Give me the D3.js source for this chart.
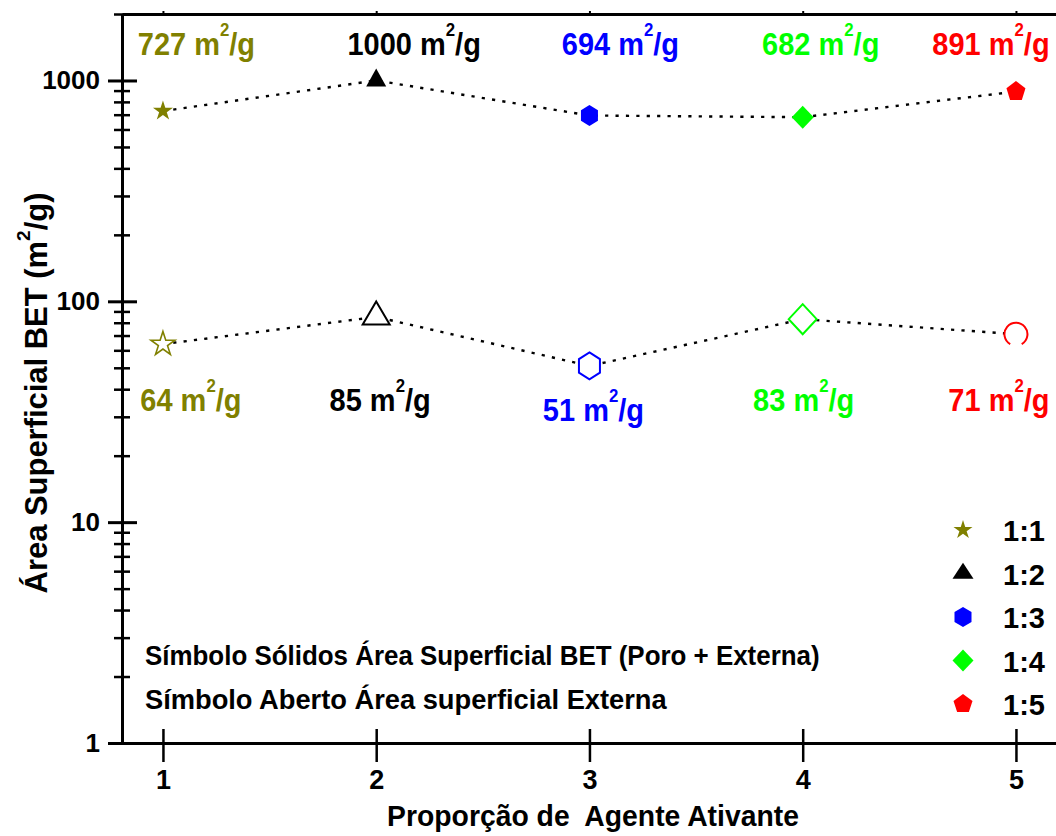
<!DOCTYPE html>
<html>
<head>
<meta charset="utf-8">
<script src="https://cdn.jsdelivr.net/npm/d3@7"></script>
<style>
  html, body { margin: 0; padding: 0; background: #fff; }
  svg { display: block; }
  text { font-family: "Liberation Sans", Arial, sans-serif; font-weight: bold; }
</style>
</head>
<body>
<svg id="chart" width="1056" height="836"></svg>
<script>
// Activating-agent ratio on the x axis
const proportion = [1, 2, 3, 4, 5];
const ratioNames = ["1:1", "1:2", "1:3", "1:4", "1:5"];
// BET surface area (pore + external), m²/g
const betArea = [727, 1000, 694, 682, 891];
// External surface area, m²/g
const externalArea = [64, 85, 51, 83, 71];
const seriesColors = ["#808000", "#000000", "#0000ff", "#00ff00", "#ff0000"];
const xTickValues = [1, 2, 3, 4, 5];
const yTickValues = [1, 10, 100, 1000];

const svg = d3.select("#chart");
const FONT = '"Liberation Sans", Arial, sans-serif';

const x = d3.scaleLinear().domain([0.808, 5.2]).range([122, 1058.6]);
const y = d3.scaleLog().domain([1, 2000]).range([743, 14]);

function styleAxis(g, fontSize) {
  g.attr("font-family", FONT).attr("font-size", fontSize).attr("font-weight", "bold");
  g.selectAll("text").attr("fill", "#000");
  g.selectAll("line, path").attr("stroke", "#000");
}

// Squeeze a text horizontally about anchorX so it spans targetWidth
function fitWidth(sel, targetWidth, anchorX) {
  const w = sel.node().getComputedTextLength();
  const s = targetWidth / w;
  sel.attr("transform", `translate(${anchorX},0) scale(${s},1) translate(${-anchorX},0)`);
}

// Left axis: minor ticks crossing the axis
const minorValues = y.ticks().filter(v => Math.abs(Math.log10(v) - Math.round(Math.log10(v))) > 1e-6);
const gyMinor = svg.append("g")
  .attr("transform", `translate(${x.range()[0]},0)`)
  .call(d3.axisLeft(y).tickValues(minorValues).tickSize(8).tickSizeOuter(0).tickFormat(""));
gyMinor.select(".domain").remove();
gyMinor.selectAll(".tick line").attr("x1", 8).attr("stroke", "#000").attr("stroke-width", 2.5);

// Left axis: decades
const gy = svg.append("g")
  .attr("transform", `translate(${x.range()[0]},0)`)
  .call(d3.axisLeft(y).tickValues(yTickValues).tickSize(14).tickPadding(8)
    .tickSizeOuter(0).tickFormat(d3.format("d")));
styleAxis(gy, 26);
gy.select(".domain").attr("stroke-width", 3);
gy.selectAll(".tick line").attr("x1", 15).attr("stroke-width", 3);

// Bottom axis
const gx = svg.append("g")
  .attr("transform", `translate(0,${y.range()[0]})`)
  .call(d3.axisBottom(x).tickValues(xTickValues).tickSize(19).tickPadding(8)
    .tickSizeOuter(0).tickFormat(d3.format("d")));
styleAxis(gx, 27);
gx.select(".domain").attr("stroke-width", 3);
gx.selectAll(".tick line").attr("y1", -14).attr("stroke-width", 2.5);

// Top and right frame
const gTop = svg.append("g")
  .attr("transform", `translate(0,${y.range()[1]})`)
  .call(d3.axisTop(x).tickValues(xTickValues).tickSize(3).tickSizeOuter(0).tickFormat(""));
styleAxis(gTop, 10);
gTop.select(".domain").attr("stroke-width", 3);
gTop.selectAll(".tick line").attr("stroke-width", 2);
const gRight = svg.append("g")
  .attr("transform", `translate(${x.range()[1]},0)`)
  .call(d3.axisRight(y).tickValues([]).tickSizeOuter(0));
styleAxis(gRight, 10);
gRight.select(".domain").attr("stroke-width", 3);

// Dotted connecting lines
const line = d3.line().x((d, i) => x(proportion[i])).y(d => y(d));
[betArea, externalArea].forEach(series => {
  svg.append("path").datum(series)
    .attr("d", line)
    .attr("fill", "none")
    .attr("stroke", "#000")
    .attr("stroke-width", 2.4)
    .attr("stroke-dasharray", "3.2,7.2");
});

// Marker shapes, centred on (0,0), sized by width/height
function polygon(pts) {
  const p = d3.path();
  pts.forEach((q, i) => i ? p.lineTo(q[0], q[1]) : p.moveTo(q[0], q[1]));
  p.closePath();
  return p.toString();
}
function shapePath(kind, w, h) {
  if (kind === "star") {
    const R = w / 1.902, r = R * 0.382, sy = h / (1.809 * R);
    const pts = d3.range(10).map(k => {
      const a = -Math.PI / 2 + k * Math.PI / 5, rr = k % 2 ? r : R;
      return [rr * Math.cos(a), rr * Math.sin(a) * sy];
    });
    return polygon(pts);
  }
  if (kind === "triangle") {
    return polygon([[0, -2 * h / 3], [w / 2, h / 3], [-w / 2, h / 3]]);
  }
  if (kind === "hexagon") {
    return polygon([[0, -h / 2], [w / 2, -h / 4], [w / 2, h / 4], [0, h / 2], [-w / 2, h / 4], [-w / 2, -h / 4]]);
  }
  if (kind === "diamond") {
    return polygon([[0, -h / 2], [w / 2, 0], [0, h / 2], [-w / 2, 0]]);
  }
  if (kind === "pentagon") {
    const R = w / 1.902, sy = h / (1.809 * R);
    const pts = d3.range(5).map(k => {
      const a = -Math.PI / 2 + k * 2 * Math.PI / 5;
      return [R * Math.cos(a), R * Math.sin(a) * sy];
    });
    return polygon(pts);
  }
  if (kind === "arc") {
    const r = w / 2, a0 = Math.PI / 2 + Math.PI / 6, a1 = a0 + 2 * Math.PI - Math.PI / 3;
    const p = d3.path();
    p.moveTo(r * Math.cos(a0), r * Math.sin(a0));
    p.arc(0, 0, r, a0, a1);
    return p.toString();
  }
}

const solidShapes = [["star", 20, 19], ["triangle", 20, 18], ["hexagon", 17, 21], ["diamond", 22, 23], ["pentagon", 19, 19]];
const openShapes = [["star", 24, 23], ["triangle", 27, 23], ["hexagon", 21, 27], ["diamond", 28, 30], ["arc", 23, 23]];
const legendShapes = [["star", 19, 18], ["triangle", 21, 16], ["hexagon", 17, 20], ["diamond", 21, 22], ["pentagon", 19, 18]];

// Open symbols: external area
svg.append("g").selectAll("path")
  .data(externalArea)
  .join("path")
  .attr("transform", (d, i) => `translate(${x(proportion[i])},${y(d)})`)
  .attr("d", (d, i) => shapePath(...openShapes[i]))
  .attr("fill", "#fff")
  .attr("stroke", (d, i) => seriesColors[i])
  .attr("stroke-width", (d, i) => i === 0 ? 1.6 : 2);

// Solid symbols: BET area
svg.append("g").selectAll("path")
  .data(betArea)
  .join("path")
  .attr("transform", (d, i) => `translate(${x(proportion[i])},${y(d)})`)
  .attr("d", (d, i) => shapePath(...solidShapes[i]))
  .attr("fill", (d, i) => seriesColors[i]);

// Value annotations (condensed bold)
const LABEL_SQUEEZE = 0.935;
function areaLabel(cx, baseline, value, color) {
  const t = svg.append("text")
    .attr("x", cx).attr("y", baseline)
    .attr("text-anchor", "middle")
    .attr("fill", color)
    .attr("font-size", 31)
    .attr("transform", `translate(${cx},0) scale(${LABEL_SQUEEZE},1) translate(${-cx},0)`);
  t.append("tspan").text(value + " m");
  t.append("tspan").attr("dy", -19).attr("font-size", 18).text("2");
  t.append("tspan").attr("dy", 19).text("/g");
}
const topLabelDx = [33.5, 38, 31, 18, -25];
const bottomLabelDx = [28, 4, 4, 1, -17];
const bottomLabelY = [411, 411, 421, 411, 411];
betArea.forEach((v, i) => areaLabel(x(proportion[i]) + topLabelDx[i], 55, v, seriesColors[i]));
externalArea.forEach((v, i) => areaLabel(x(proportion[i]) + bottomLabelDx[i], bottomLabelY[i], v, seriesColors[i]));

// Legend
const legend = svg.append("g").attr("transform", "translate(963,530)");
ratioNames.forEach((name, i) => {
  const row = legend.append("g").attr("transform", `translate(0,${i * 43.5})`);
  row.append("path").attr("d", shapePath(...legendShapes[i])).attr("fill", seriesColors[i]);
  row.append("text").attr("x", 40).attr("y", 11).attr("font-size", 29).attr("fill", "#000").text(name);
});

// Notes on symbol meaning
const note1 = svg.append("text").attr("x", 145).attr("y", 665).attr("font-size", 28).attr("fill", "#000")
  .text("Símbolo Sólidos Área Superficial BET (Poro + Externa)");
fitWidth(note1, 675, 145);
const note2 = svg.append("text").attr("x", 145).attr("y", 709).attr("font-size", 28).attr("fill", "#000")
  .text("Símbolo Aberto Área superficial Externa");
fitWidth(note2, 522, 145);

// Axis titles
const xTitle = svg.append("text")
  .attr("x", 593).attr("y", 826)
  .attr("text-anchor", "middle")
  .attr("font-size", 29)
  .attr("fill", "#000")
  .style("white-space", "pre")
  .text("Proporção de  Agente Ativante");
fitWidth(xTitle, 412, 593);

const yTitle = svg.append("text")
  .attr("x", 0).attr("y", 0)
  .attr("text-anchor", "middle")
  .attr("font-size", 31)
  .attr("fill", "#000");
yTitle.append("tspan").text("Área Superficial BET (m");
yTitle.append("tspan").attr("dy", -17).attr("font-size", 19).text("2");
yTitle.append("tspan").attr("dy", 17).text("/g)");
const yTitleScale = 401 / yTitle.node().getComputedTextLength();
yTitle.attr("transform", `translate(47,393) rotate(-90) scale(${yTitleScale},1)`);
</script>
</body>
</html>
